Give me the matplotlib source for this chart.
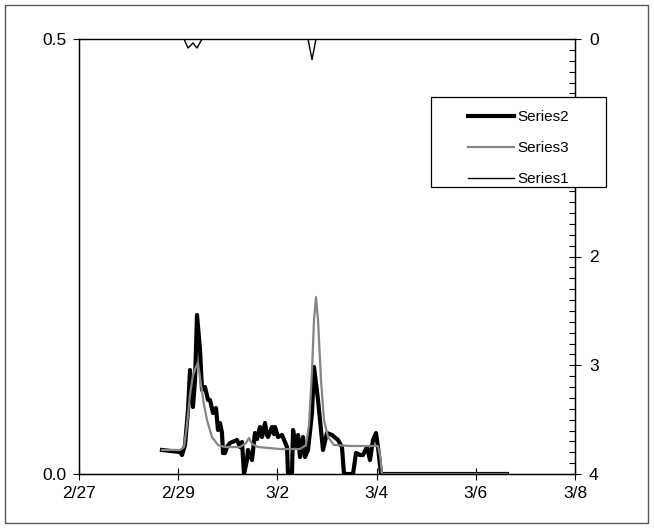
import matplotlib
matplotlib.use("Agg")
import matplotlib.pyplot as plt
import matplotlib.dates as mdates
import numpy as np
import pandas as pd
from matplotlib.patches import Rectangle
from matplotlib.ticker import MultipleLocator, FixedLocator

plt.rcParams['font.family'] = ['Liberation Sans', 'DejaVu Sans']

base = pd.Timestamp('2008-02-27')

# Series2 (left axis) - days since 2/27, value
s2_days = [1.673, 2.036, 2.077, 2.137, 2.198, 2.238, 2.298, 2.339, 2.379, 2.440,
           2.480, 2.540, 2.601, 2.641, 2.702, 2.762, 2.802, 2.843, 2.883, 2.903,
           2.944, 2.984, 3.044, 3.185, 3.246, 3.286, 3.327, 3.387, 3.407, 3.488,
           3.548, 3.589, 3.649, 3.690, 3.750, 3.790, 3.810, 3.891, 3.931, 3.952,
           4.012, 4.093, 4.194, 4.214, 4.294, 4.315, 4.355, 4.395, 4.415, 4.456,
           4.516, 4.556, 4.617, 4.698, 4.738, 4.819, 4.899, 4.919, 5.000, 5.101,
           5.222, 5.302, 5.343, 5.524, 5.585, 5.665, 5.726, 5.806, 5.867, 5.927,
           5.988, 6.028, 6.089, 8.629]
s2_vals = [0.0276, 0.0253, 0.0218, 0.0333, 0.0736, 0.1195, 0.0770, 0.1080, 0.1828, 0.1425,
           0.0966, 0.1000, 0.0851, 0.0851, 0.0701, 0.0759, 0.0506, 0.0586, 0.0471, 0.0241,
           0.0241, 0.0310, 0.0356, 0.0391, 0.0310, 0.0368, 0.0000, 0.0161, 0.0276, 0.0161,
           0.0471, 0.0400, 0.0540, 0.0425, 0.0586, 0.0450, 0.0425, 0.0540, 0.0460, 0.0540,
           0.0425, 0.0448, 0.0310, 0.0000, 0.0000, 0.0506, 0.0380, 0.0310, 0.0448, 0.0195,
           0.0425, 0.0195, 0.0276, 0.0701, 0.1230, 0.0851, 0.0391, 0.0276, 0.0471, 0.0448,
           0.0391, 0.0310, 0.0000, 0.0000, 0.0241, 0.0218, 0.0218, 0.0310, 0.0161, 0.0391,
           0.0471, 0.0310, 0.0000, 0.0000]

# Series3 (left axis)
s3_days = [1.673, 2.036, 2.117, 2.177, 2.238, 2.298, 2.359, 2.399, 2.460, 2.520,
           2.581, 2.681, 2.802, 2.944, 3.246, 3.367, 3.427, 3.488, 3.609, 4.052,
           4.456, 4.577, 4.637, 4.698, 4.738, 4.778, 4.819, 4.879, 4.940, 5.020,
           5.141, 5.464, 6.028, 6.069, 6.109, 8.629]
s3_vals = [0.0276, 0.0276, 0.0310, 0.0563, 0.0908, 0.1138, 0.1230, 0.1276, 0.1023, 0.0793,
           0.0621, 0.0425, 0.0333, 0.0310, 0.0310, 0.0356, 0.0414, 0.0345, 0.0310, 0.0287,
           0.0287, 0.0333, 0.0563, 0.1195, 0.1770, 0.2034, 0.1770, 0.1080, 0.0621, 0.0425,
           0.0333, 0.0322, 0.0322, 0.0218, 0.0000, 0.0000]

# Series1 (right axis, inverted)
s1_days = [1.673, 2.117, 2.198, 2.298, 2.379, 2.480, 4.617, 4.698, 4.778, 8.629]
s1_vals = [0.0, 0.0, 0.083, 0.037, 0.083, 0.0, 0.0, 0.19, 0.0, 0.0]

tick_days = [0, 2, 4, 6, 8, 10]


def to_dates(days):
    return base + pd.to_timedelta(np.array(days), unit='D')


fig = plt.figure(figsize=(6.54, 5.29), dpi=100)
ax = fig.add_axes([79 / 654, 1 - 474 / 529, (575 - 79) / 654, (474 - 39) / 529])
ax2 = ax.twinx()

l2, = ax.plot(to_dates(s2_days), s2_vals, color='black', lw=3.0, label='Series2')
l3, = ax.plot(to_dates(s3_days), s3_vals, color='#858585', lw=1.6, label='Series3')
l1, = ax2.plot(to_dates(s1_days), s1_vals, color='black', lw=1.0, label='Series1')

ax.set_xlim(base, base + pd.Timedelta(days=10))
ax.set_ylim(0, 0.5)
ax2.set_ylim(4, 0)

ax.xaxis.set_major_locator(FixedLocator(mdates.date2num(to_dates(tick_days))))
ax.xaxis.set_major_formatter(mdates.DateFormatter('%-m/%-d'))
ax.set_yticks([0, 0.5])
ax.set_yticklabels(['0.0', '0.5'])
ax2.set_yticks([0, 1, 2, 3, 4])
ax2.set_yticklabels(['0', '1', '2', '3', '4'])
ax2.yaxis.set_minor_locator(MultipleLocator(0.1))

ax.tick_params(axis='both', which='major', direction='inout', length=8, width=0.8,
               labelsize=12.5, pad=5)
ax2.tick_params(axis='y', which='major', direction='inout', length=8, width=0.8,
                labelsize=12.5, pad=6)
ax2.tick_params(axis='y', which='minor', direction='in', length=4, width=0.8)

for a in (ax, ax2):
    for sp in a.spines.values():
        sp.set_linewidth(0.9)
        sp.set_color('black')
ax.spines['top'].set_color('#666666')

# legend with manual frame
frame = Rectangle((431 / 654, 1 - 187 / 529), (606 - 431) / 654, (187 - 97) / 529,
                  transform=fig.transFigure, facecolor='white', edgecolor='black',
                  lw=0.9, zorder=5)
fig.add_artist(frame)
leg = fig.legend(handles=[l2, l3, l1], loc='upper left',
                 bbox_to_anchor=(462 / 654, 1 - 104 / 529), frameon=False,
                 fontsize=11, handlelength=3.0, handletextpad=0.25,
                 labelspacing=1.12, borderaxespad=0)
leg.set_zorder(6)

# outer border of the chart area
fig.add_artist(Rectangle((5 / 654, 1 - 523 / 529), (648 - 5) / 654, (523 - 5) / 529,
                         transform=fig.transFigure, fill=False, edgecolor='#555555',
                         lw=1.0))

fig.savefig('out.png', dpi=100)
